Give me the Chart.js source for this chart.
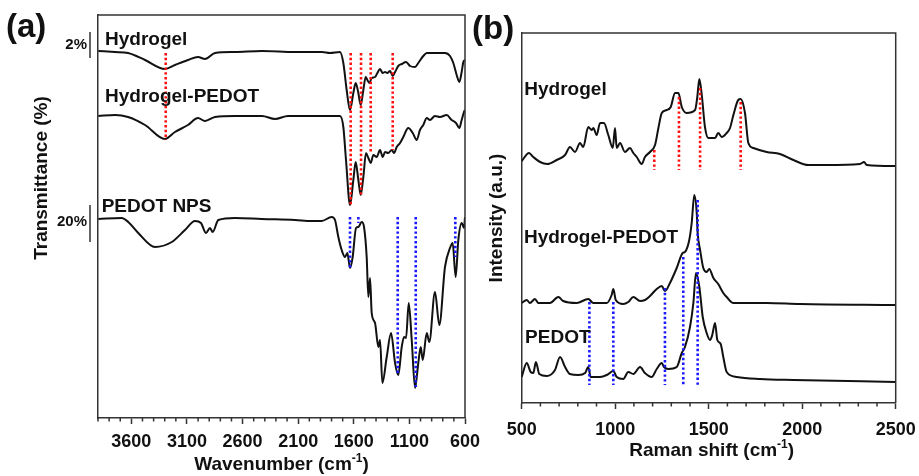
<!DOCTYPE html>
<html><head><meta charset="utf-8">
<script src="https://cdn.jsdelivr.net/npm/chart.js@4.4.1/dist/chart.umd.min.js"></script>
<style>
html,body{margin:0;padding:0;background:#fff;}
#wrap{position:relative;width:919px;height:476px;overflow:hidden;background:#fff;}
#cA{position:absolute;left:0;top:0;}
#cB{position:absolute;left:470px;top:0;}
</style></head><body>
<div id="wrap">
<canvas id="cA" width="485" height="476"></canvas>
<canvas id="cB" width="449" height="476"></canvas>
</div>
<script>
// ---------- (a) FTIR data ----------
const ftirTicks = [3600, 3100, 2600, 2100, 1600, 1100, 600];
const ftirHydrogelWn = [3897,3747,3630,3477,3298,3208,3091,3001,2938,2848,2668,2425,2129,1886,1814,1724,1694,1664,1634,1604,1583,1559,1538,1514,1493,1478,1460,1439,1409,1388,1364,1340,1319,1299,1274,1250,1229,1200,1169,1130,1094,1049,1020,975,944,885,825,780,735,705,675,651,630,615,600];
const ftirHydrogelT  = [367,366,365,358,349,353,358,361,359,365,366,367,366,366,365,366,355,328,308,325,335,325,313,328,341,338,335,340,341,345,349,345,346,345,347,342,346,352,354,356,352,351,355,362,365,365,365,365,362,355,343,336,346,356,358];
const ftirHydPedotWn = [3897,3747,3630,3477,3298,3208,3091,3001,2938,2848,2668,2425,2308,2192,1886,1724,1694,1670,1634,1604,1583,1559,1538,1514,1490,1469,1448,1424,1394,1364,1340,1319,1290,1259,1238,1214,1184,1155,1110,1070,1034,1005,975,944,915,870,825,765,720,681,651,630,609,600];
const ftirHydPedotT  = [302,303,301,293,279,286,293,300,297,301,302,302,299,302,302,302,291,258,213,238,256,238,223,241,265,260,255,263,261,268,261,266,265,268,265,271,275,281,290,285,278,288,293,300,298,302,301,303,298,295,290,298,306,308];
const ftirPedotWn = [3897,3687,3628,3538,3387,3237,3118,3028,2974,2929,2893,2869,2818,2668,2428,2129,1978,1889,1799,1769,1739,1709,1679,1658,1634,1610,1580,1559,1529,1508,1484,1469,1454,1439,1409,1379,1364,1343,1304,1265,1229,1200,1169,1148,1130,1106,1079,1049,1020,998,980,944,921,870,831,780,735,711,684,660,630,609,600];
const ftirPedotT  = [199,200,196,185,171,176,188,197,195,185,190,186,198,200,199,198,197,197,201,198,181,168,161,165,150,161,190,191,196,191,161,121,140,105,95,71,78,35,61,85,55,43,71,81,80,115,78,30,55,71,58,85,76,126,93,151,170,175,141,178,195,190,201];
const ftirRedWn = [3291, 1628, 1535, 1448, 1250];
const ftirRedTop = [365, 365, 365, 365, 365];
const ftirRedBottom = [278, 213, 223, 265, 268];
const ftirBlueWn = [1634, 1559, 1205, 1043, 687];
const ftirBlueTop = [201, 201, 201, 201, 201];
const ftirBlueBottom = [150, 195, 45, 31, 161];
const ftirLabels = ['Hydrogel', 'Hydrogel-PEDOT', 'PEDOT NPS'];
const ftirLabelWn = [3837, 3837, 3867];
const ftirLabelVal = [378, 321, 211];

// ---------- (b) Raman data ----------
const ramanTicks = [500, 1000, 1500, 2000, 2500];
const ramanHydrogelWn = [500,539,562,598,637,687,732,758,785,812,829,856,874,883,901,919,940,963,987,999,1008,1026,1052,1079,1097,1115,1142,1159,1186,1213,1231,1249,1275,1297,1320,1338,1356,1382,1427,1439,1450,1463,1480,1498,1534,1551,1570,1596,1614,1632,1658,1671,1694,1712,1739,1810,1881,1953,2033,2131,2309,2331,2345,2500];
const ramanHydrogelI  = [242,250,246,241,239,243,248,256,251,260,256,276,273,275,268,280,280,268,255,275,255,260,251,255,250,246,239,246,251,258,275,290,293,296,310,310,296,290,293,306,324,308,276,265,265,270,266,270,275,288,303,304,290,260,255,251,249,243,238,238,239,241,238,237];
const ramanHydPedotWn = [500,527,544,571,589,651,696,722,794,856,883,955,981,990,1003,1043,1070,1097,1133,1159,1186,1222,1249,1266,1293,1329,1361,1373,1396,1409,1423,1436,1441,1454,1471,1489,1503,1525,1551,1578,1596,1632,1810,1988,2500];
const ramanHydPedotI  = [100,103,100,104,100,100,106,102,100,104,100,100,108,114,103,99,101,106,102,103,107,114,117,112,120,135,150,151,163,180,208,190,170,153,135,131,134,125,119,110,106,100,100,99,98];
const ramanPedotWn = [500,527,548,562,576,594,634,678,705,732,758,803,839,856,869,919,955,990,1008,1043,1070,1097,1133,1159,1195,1222,1249,1261,1284,1329,1356,1373,1400,1418,1432,1450,1468,1489,1507,1519,1534,1546,1564,1578,1596,1650,1774,1953,2500];
const ramanPedotI  = [26,40,31,30,41,29,27,33,46,36,29,28,30,36,26,26,28,32,26,24,31,29,36,30,26,34,40,36,34,36,50,56,76,100,130,116,86,70,63,68,80,63,59,46,31,26,24,23,21];
const ramanRedWn = [1209, 1341, 1454, 1671];
const ramanRedTop = [253, 306, 315, 301];
const ramanRedBottom = [233, 233, 233, 233];
const ramanBlueWn = [862, 990, 1266, 1364, 1441];
const ramanBlueTop = [101, 101, 115, 146, 203];
const ramanBlueBottom = [18, 18, 18, 18, 18];
const ramanLabels = ['Hydrogel', 'Hydrogel-PEDOT', 'PEDOT'];
const ramanLabelWn = [514, 512, 518];
const ramanLabelVal = [313, 165, 65];

// ---------- helpers ----------
const FONT = '"Liberation Sans", Arial, Helvetica, sans-serif';
const INK = '#111';
const FRAME = '#333';
const pts = (xs, ys) => xs.map((x, i) => ({x: x, y: ys[i]}));
function curve(xs, ys) {
  return {data: pts(xs, ys), borderColor: INK, borderWidth: 2, pointRadius: 0,
          cubicInterpolationMode: 'monotone', fill: false, order: 2};
}
function markers(xs, tops, bottoms, color) {
  return xs.map((x, i) => ({data: [{x: x, y: tops[i]}, {x: x, y: bottoms[i]}],
    borderColor: color, borderWidth: 2.6, borderDash: [2.4, 2.4], borderCapStyle: 'butt',
    pointRadius: 0, fill: false, order: 1}));
}
function supText(ctx, main, sup, tail, cx, cy, size) {
  ctx.save();
  ctx.fillStyle = INK;
  ctx.textBaseline = 'middle';
  ctx.textAlign = 'left';
  const f1 = 'bold ' + size + 'px ' + FONT;
  const f2 = 'bold ' + Math.round(size * 0.62) + 'px ' + FONT;
  ctx.font = f1; const w1 = ctx.measureText(main).width; const w3 = ctx.measureText(tail).width;
  ctx.font = f2; const w2 = ctx.measureText(sup).width;
  let x = cx - (w1 + w2 + w3) / 2;
  ctx.font = f1; ctx.fillText(main, x, cy); x += w1;
  ctx.font = f2; ctx.fillText(sup, x, cy - size * 0.33); x += w2;
  ctx.font = f1; ctx.fillText(tail, x, cy);
  ctx.restore();
}
function xScaleOpts(ticks, min, max, reverse, height, pad) {
  return {
    type: 'linear', min: min, max: max, reverse: reverse,
    afterBuildTicks: s => { s.ticks = ticks.map(v => ({value: v})); },
    afterFit: s => { s.height = height; s.paddingLeft = 0; s.paddingRight = 0; },
    ticks: {color: INK, font: {family: FONT, size: 18, weight: 'bold'}, padding: pad, maxRotation: 0, autoSkip: false,
            callback: v => String(v)},
    grid: {display: true, drawOnChartArea: false, drawTicks: true, tickLength: 6, tickColor: FRAME, tickWidth: 1.5},
    border: {display: true, color: FRAME, width: 1.5},
    title: {display: false}
  };
}
function yScaleOpts(min, max, width) {
  return {
    type: 'linear', min: min, max: max,
    afterFit: s => { s.width = width; s.paddingTop = 0; s.paddingBottom = 0; },
    ticks: {display: false},
    grid: {display: false, drawTicks: false},
    border: {display: true, color: FRAME, width: 1.5}
  };
}
function drawCommon(chart, minorFrom, minorTo, majors) {
  const ctx = chart.ctx, a = chart.chartArea, xs = chart.scales.x;
  ctx.save();
  ctx.strokeStyle = FRAME; ctx.lineWidth = 1.5;
  ctx.beginPath();
  ctx.moveTo(a.left, a.top); ctx.lineTo(a.right, a.top); ctx.lineTo(a.right, a.bottom);
  ctx.stroke();
  ctx.beginPath();
  for (let v = minorFrom; v <= minorTo; v += 100) {
    if (majors.indexOf(v) >= 0) continue;
    const px = xs.getPixelForValue(v);
    ctx.moveTo(px, a.bottom); ctx.lineTo(px, a.bottom + 3.5);
  }
  ctx.stroke();
  ctx.restore();
}
function drawLabels(chart, labels, wns, vals) {
  const ctx = chart.ctx, xs = chart.scales.x, ys = chart.scales.y;
  ctx.save();
  ctx.fillStyle = INK; ctx.font = 'bold 19px ' + FONT;
  ctx.textAlign = 'left'; ctx.textBaseline = 'middle';
  labels.forEach((t, i) => ctx.fillText(t, xs.getPixelForValue(wns[i]), ys.getPixelForValue(vals[i])));
  ctx.restore();
}

// ---------- chart (a) ----------
const plugA = {
  id: 'decoA',
  afterDraw(chart) {
    const ctx = chart.ctx, a = chart.chartArea, ys = chart.scales.y;
    drawCommon(chart, 700, 3900, ftirTicks);
    drawLabels(chart, ftirLabels, ftirLabelWn, ftirLabelVal);
    ctx.save();
    ctx.strokeStyle = FRAME; ctx.lineWidth = 1.5;
    const bx = a.left - 8;
    ctx.beginPath();
    ctx.moveTo(bx, ys.getPixelForValue(386)); ctx.lineTo(bx, ys.getPixelForValue(360));
    ctx.moveTo(bx, ys.getPixelForValue(213)); ctx.lineTo(bx, ys.getPixelForValue(176));
    ctx.stroke();
    ctx.fillStyle = INK; ctx.font = 'bold 15px ' + FONT;
    ctx.textAlign = 'right'; ctx.textBaseline = 'middle';
    ctx.fillText('2%', bx - 3, ys.getPixelForValue(373));
    ctx.fillText('20%', bx - 3, ys.getPixelForValue(196));
    ctx.font = 'bold 33px ' + FONT; ctx.textAlign = 'left';
    ctx.fillText('(a)', 6, 28);
    ctx.translate(a.left - 56, ys.getPixelForValue(240));
    ctx.rotate(-Math.PI / 2);
    ctx.font = 'bold 19px ' + FONT; ctx.textAlign = 'center';
    ctx.fillText('Transmittance (%)', 0, 0);
    ctx.restore();
    supText(ctx, 'Wavenumber (cm', '-1', ')', (a.left + a.right) / 2, 465, 19);
  }
};
new Chart(document.getElementById('cA'), {
  type: 'line',
  data: {datasets: [
    ...markers(ftirRedWn, ftirRedTop, ftirRedBottom, '#ff1010'),
    ...markers(ftirBlueWn, ftirBlueTop, ftirBlueBottom, '#1a1aff'),
    curve(ftirHydrogelWn, ftirHydrogelT),
    curve(ftirHydPedotWn, ftirHydPedotT),
    curve(ftirPedotWn, ftirPedotT)
  ]},
  options: {
    responsive: false, animation: false, events: [],
    layout: {padding: {left: 0, right: 20, top: 15, bottom: 0}},
    plugins: {legend: {display: false}, tooltip: {enabled: false}},
    scales: {x: xScaleOpts(ftirTicks, 600, 3900, true, 58, 7), y: yScaleOpts(0, 403, 98)}
  },
  plugins: [plugA]
});

// ---------- chart (b) ----------
const plugB = {
  id: 'decoB',
  afterDraw(chart) {
    const ctx = chart.ctx, a = chart.chartArea;
    drawCommon(chart, 500, 2500, ramanTicks);
    drawLabels(chart, ramanLabels, ramanLabelWn, ramanLabelVal);
    ctx.save();
    ctx.fillStyle = INK; ctx.textBaseline = 'middle';
    ctx.font = 'bold 33px ' + FONT; ctx.textAlign = 'left';
    ctx.fillText('(b)', 2, 30);
    ctx.translate(a.left - 25, (a.top + a.bottom) / 2);
    ctx.rotate(-Math.PI / 2);
    ctx.font = 'bold 19px ' + FONT; ctx.textAlign = 'center';
    ctx.fillText('Intensity (a.u.)', 0, 0);
    ctx.restore();
    supText(ctx, 'Raman shift (cm', '-1', ')', (a.left + a.right) / 2 + 3, 451, 19);
  }
};
new Chart(document.getElementById('cB'), {
  type: 'line',
  data: {datasets: [
    ...markers(ramanRedWn, ramanRedTop, ramanRedBottom, '#ff1010'),
    ...markers(ramanBlueWn, ramanBlueTop, ramanBlueBottom, '#1a1aff'),
    curve(ramanHydrogelWn, ramanHydrogelI),
    curve(ramanHydPedotWn, ramanHydPedotI),
    curve(ramanPedotWn, ramanPedotI)
  ]},
  options: {
    responsive: false, animation: false, events: [],
    layout: {padding: {left: 0, right: 23.3, top: 33, bottom: 0}},
    plugins: {legend: {display: false}, tooltip: {enabled: false}},
    scales: {x: xScaleOpts(ramanTicks, 500, 2500, false, 73, 10), y: yScaleOpts(0, 370, 51.7)}
  },
  plugins: [plugB]
});
</script>
</body></html>
